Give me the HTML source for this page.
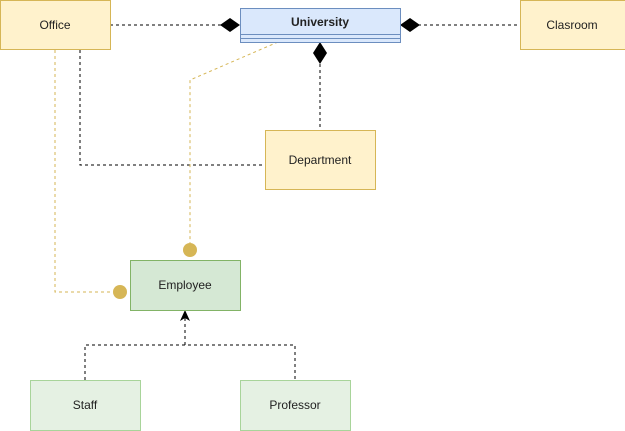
<!DOCTYPE html>
<html><head><style>body{margin:0;background:#fff}svg{display:block}text{font-family:"Liberation Sans",Helvetica,sans-serif;font-size:12px;fill:#222}</style></head><body>
<svg width="625" height="431" viewBox="0 0 625 431">
<g fill="none" stroke="#000" stroke-dasharray="3 3">
<path d="M110 25H222"/><path d="M418 25H520"/><path d="M320 64V130"/>
<path d="M80 50V165H265"/>
<path d="M85 380V345H295V380"/><path d="M185 345V318"/>
</g>
<g fill="none" stroke="#d6b656" stroke-dasharray="3 3">
<path d="M278 42L190 80V243"/><path d="M55 50V292H113"/>
</g>
<circle cx="190" cy="250" r="7" fill="#d6b656"/>
<circle cx="120" cy="292" r="7" fill="#d6b656"/>
<path d="M240 25L230 18L220 25L230 32Z"/>
<path d="M400 25L410 18L420 25L410 32Z"/>
<path d="M320 42L313 53L320 64L327 53Z"/>
<path d="M185 310L180 321L185 318L190 321Z"/>
<rect x="0.5" y="0.5" width="110" height="49" fill="#fff2cc" stroke="#d6b656"/>
<text x="55" y="29" text-anchor="middle">Office</text>
<rect x="520.5" y="0.5" width="110" height="49" fill="#fff2cc" stroke="#d6b656"/>
<text x="572" y="29" text-anchor="middle">Clasroom</text>
<rect x="240.5" y="8.5" width="160" height="34" fill="#dae8fc" stroke="#6c8ebf"/>
<path d="M240 34.5H400M240 38.5H400" stroke="#6c8ebf"/>
<text x="320" y="26" text-anchor="middle" font-weight="bold">University</text>
<rect x="265.5" y="130.5" width="110" height="59" fill="#fff2cc" stroke="#d6b656"/>
<text x="320" y="164" text-anchor="middle">Department</text>
<rect x="130.5" y="260.5" width="110" height="50" fill="#d5e8d4" stroke="#82b366"/>
<text x="185" y="289" text-anchor="middle">Employee</text>
<rect x="30.5" y="380.5" width="110" height="50" fill="#e5f1e3" stroke="#a8d49a"/>
<text x="85" y="409" text-anchor="middle">Staff</text>
<rect x="240.5" y="380.5" width="110" height="50" fill="#e5f1e3" stroke="#a8d49a"/>
<text x="295" y="409" text-anchor="middle">Professor</text>
</svg>
</body></html>
